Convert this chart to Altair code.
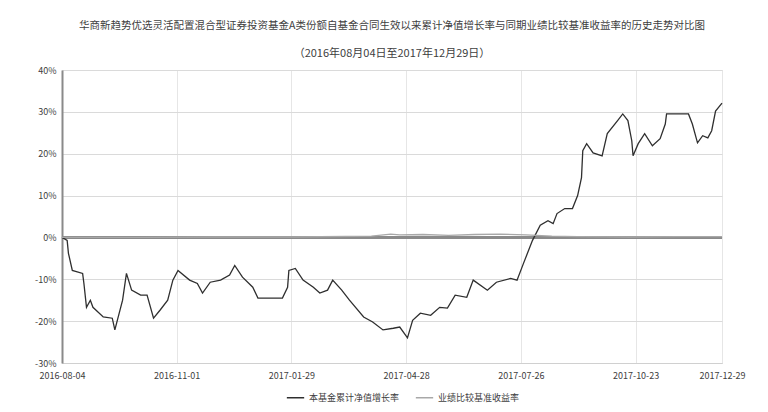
import altair as alt
import pandas as pd

# ---- data ----
start_date = "2016-08-04"
end_date = "2017-12-29"

fund_day = [0, 4, 5, 8, 16, 17, 19, 22, 24, 32, 39, 41, 47, 50, 54, 61, 66, 71, 76, 82, 86, 90,
            99, 105, 109, 115, 123, 130, 134, 140, 148, 152, 161, 171, 175, 176, 181, 187, 195,
            200, 206, 210, 217, 223, 234, 241, 249, 257, 262, 268, 272, 278, 286, 293, 299, 305,
            314, 319, 330, 337, 348, 353, 358, 365, 371, 377, 381, 384, 390, 396, 400, 403, 404,
            407, 412, 419, 423, 431, 435, 439, 442, 443, 447, 452, 458, 464, 468, 469, 486, 489,
            493, 497, 501, 504, 507, 512]
fund_val = [0.0, -0.7, -3.8, -7.9, -8.6, -11.0, -16.7, -15.0, -16.7, -19.0, -19.3, -22.1, -15.0,
            -8.6, -12.6, -13.8, -13.8, -19.3, -17.4, -15.0, -10.2, -7.9, -10.2, -11.0, -13.3,
            -10.7, -10.2, -9.0, -6.7, -9.5, -11.9, -14.5, -14.5, -14.5, -11.9, -7.9, -7.4, -10.2,
            -11.9, -13.3, -12.6, -10.2, -12.6, -15.0, -19.0, -20.2, -22.1, -21.7, -21.4, -24.0,
            -19.8, -18.1, -18.6, -16.7, -16.9, -13.8, -14.3, -10.2, -12.6, -10.7, -9.8, -10.2,
            -6.2, -0.7, 2.9, 4.0, 3.3, 5.7, 6.9, 6.9, 10.0, 14.3, 20.7, 22.4, 20.2, 19.5, 24.8,
            27.9, 29.5, 27.9, 23.1, 19.5, 22.4, 24.8, 21.9, 23.6, 27.1, 29.5, 29.5, 27.1, 22.6,
            24.3, 23.8, 25.5, 30.2, 32.1]

bench_day = [0, 60, 120, 180, 240, 255, 262, 280, 300, 320, 340, 360, 380, 400, 440, 480, 512]
bench_val = [0.0, 0.0, 0.1, 0.1, 0.3, 0.8, 0.6, 0.7, 0.5, 0.7, 0.8, 0.6, 0.3, 0.2, 0.1, 0.2, 0.2]

tick_dates = ["2016-08-04", "2016-11-01", "2017-01-29", "2017-04-28",
              "2017-07-26", "2017-10-23", "2017-12-29"]
y_ticks = [-30, -20, -10, 0, 10, 20, 30, 40]

series_names = ["本基金累计净值增长率", "业绩比较基准收益率"]
title_line = "华商新趋势优选灵活配置混合型证券投资基金A类份额自基金合同生效以来累计净值增长率与同期业绩比较基准收益率的历史走势对比图"
subtitle_line = "（2016年08月04日至2017年12月29日）"

# ---- build table ----
def ms(s):
    return int(pd.Timestamp(s).value // 1_000_000)

t0 = pd.Timestamp(start_date)
rows = []
for d, v in zip(fund_day, fund_val):
    rows.append({"t": ms(t0 + pd.Timedelta(days=d)), "v": v, "s": series_names[0]})
for d, v in zip(bench_day, bench_val):
    rows.append({"t": ms(t0 + pd.Timedelta(days=d)), "v": v, "s": series_names[1]})
df = pd.DataFrame(rows)

FONT = "Noto Sans CJK SC"

x_enc = alt.X(
    "t:T",
    scale=alt.Scale(type="utc", domain=[ms(start_date), ms(end_date)], nice=False),
    axis=alt.Axis(
        values=[ms(s) for s in tick_dates],
        labelExpr="utcFormat(datum.value, '%Y-%m-%d')",
        title=None, grid=True, gridColor="#e6e6e6", ticks=False, labelFlush=False,
        domainColor="#d0d0d0", labelFontSize=9, labelColor="#404040", labelFont=FONT,
        labelPadding=8,
    ),
)
y_enc = alt.Y(
    "v:Q",
    scale=alt.Scale(domain=[-30, 40], nice=False),
    axis=alt.Axis(
        values=y_ticks, labelExpr="datum.value + '%'", title=None,
        grid=True, gridColor="#dadada", ticks=False, domainColor="#8a8a8a",
        domainWidth=2, labelFontSize=9, labelColor="#404040", labelFont=FONT, labelPadding=6,
    ),
)

lines = alt.Chart(df).mark_line(strokeWidth=1.3).encode(
    x=x_enc,
    y=y_enc,
    color=alt.Color(
        "s:N",
        scale=alt.Scale(domain=series_names, range=["#2f2f2f", "#a8a8a8"]),
        legend=alt.Legend(
            title=None, orient="none", legendX=224, legendY=318, direction="horizontal",
            symbolType="stroke", symbolStrokeWidth=1.5, symbolSize=300,
            labelFontSize=9, labelFont=FONT, labelColor="#404040", columnPadding=12,
        ),
    ),
    detail="s:N",
)

zero = alt.Chart(pd.DataFrame({"v": [0]})).mark_rule(color="#8a8a8a", strokeWidth=3).encode(
    y=alt.Y("v:Q", scale=alt.Scale(domain=[-30, 40], nice=False))
)

chart = (
    alt.layer(zero, lines)
    .properties(
        width=660,
        height=293,
        title=alt.Title(
            text=title_line, subtitle=subtitle_line,
            fontSize=10.5, font=FONT, fontWeight="normal", color="#404040",
            subtitleFontSize=11, subtitleFont=FONT, subtitleColor="#404040",
            subtitlePadding=17, anchor="middle", offset=7,
        ),
        autosize=alt.AutoSizeParams(type="none"),
        padding={"left": 54, "top": 62, "right": 38, "bottom": 41},
    )
    .configure_view(stroke="#d0d0d0", strokeWidth=1)
    .configure(background="white")
)

chart.save("out.html", embed_options={"renderer": "svg", "actions": False})
